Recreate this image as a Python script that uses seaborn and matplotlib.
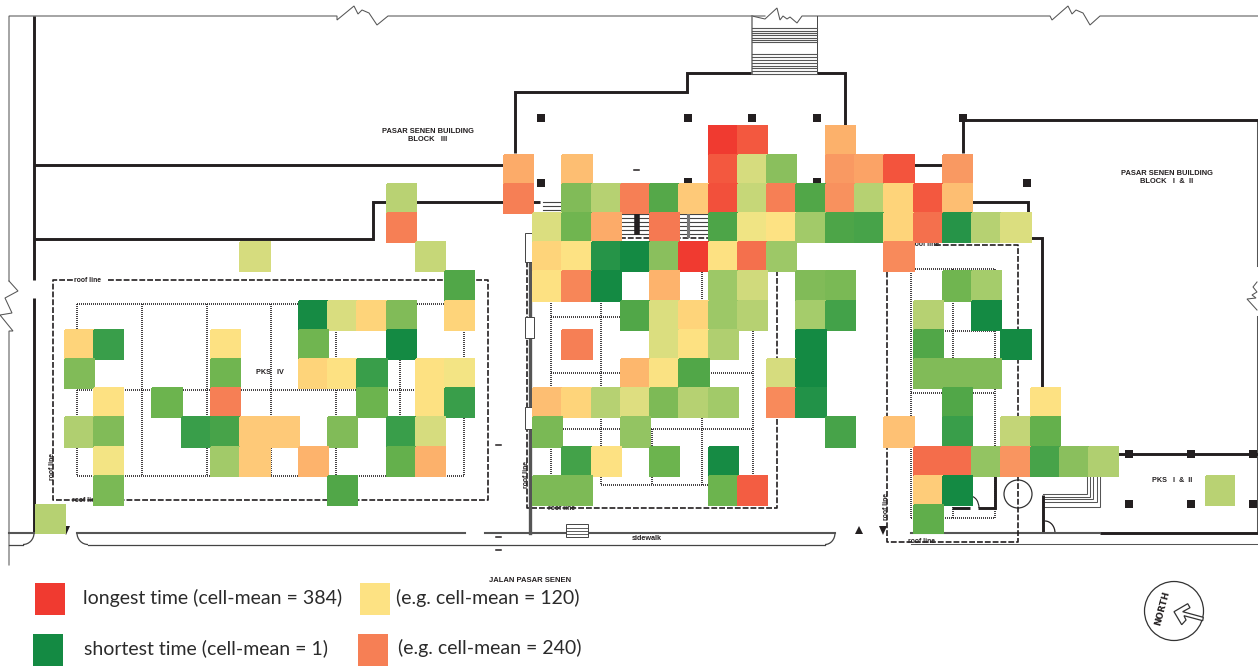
#!/usr/bin/env python3
"""Waiting time heat map over the Pasar Senen floor plan."""

import numpy as np
import pandas as pd
import matplotlib
matplotlib.use("Agg")
import matplotlib.pyplot as plt
import seaborn as sns
from matplotlib.colors import LinearSegmentedColormap, Normalize
from matplotlib.patches import Circle, Polygon, Rectangle, Arc

# ------------------------------------------------------------------
# DATA: (column, cell-mean) per row of the grid
# ------------------------------------------------------------------
row_00 = [(23, 384), (24, 310), (27, 175)]
row_01 = [(16, 185), (18, 160), (23, 310), (24, 85), (25, 52), (27, 205), (28, 195), (29, 320), (31, 205)]
row_02 = [(12, 72), (16, 240), (18, 50), (19, 70), (20, 240), (21, 32), (22, 148), (23, 330), (24, 78),
          (25, 240), (26, 30), (27, 215), (28, 70), (29, 135), (30, 310), (31, 160)]
row_03 = [(12, 240), (17, 88), (18, 42), (19, 185), (21, 250), (23, 28), (24, 100), (25, 120), (26, 60),
          (27, 28), (28, 25), (29, 135), (30, 265), (31, 12), (32, 70), (33, 88)]
row_04 = [(7, 85), (13, 78), (17, 135), (18, 120), (19, 12), (20, 2), (21, 52), (22, 384), (23, 122),
          (24, 265), (25, 58), (29, 225)]
row_05 = [(14, 30), (17, 122), (18, 230), (19, 2), (21, 172), (23, 58), (24, 82), (26, 50), (27, 47),
          (31, 42), (32, 62)]
row_06 = [(9, 3), (10, 87), (11, 135), (12, 50), (14, 135), (20, 30), (21, 88), (22, 135), (23, 58),
          (24, 70), (26, 62), (27, 24), (30, 70), (32, 2)]
row_07 = [(1, 135), (2, 20), (6, 122), (9, 42), (12, 2), (18, 240), (21, 88), (22, 122), (23, 68),
          (26, 2), (30, 30), (33, 2)]
row_08 = [(1, 50), (6, 42), (9, 135), (10, 122), (11, 20), (13, 122), (14, 105), (20, 168), (21, 115),
          (22, 30), (25, 85), (26, 2), (30, 50), (31, 50), (32, 50)]
row_09 = [(2, 122), (4, 40), (6, 240), (11, 41), (13, 122), (14, 20), (17, 160), (18, 135), (19, 70),
          (20, 90), (21, 48), (22, 70), (23, 60), (25, 225), (26, 11), (31, 30), (34, 122)]
row_10 = [(1, 68), (2, 50), (5, 20), (6, 26), (7, 148), (8, 148), (10, 50), (12, 20), (13, 85), (17, 47),
          (20, 56), (27, 25), (29, 158), (31, 20), (33, 76), (34, 37)]
row_11 = [(2, 105), (6, 60), (7, 148), (9, 172), (12, 38), (13, 175), (18, 24), (19, 122), (21, 40), (23, 3),
          (30, 270), (31, 270), (32, 56), (33, 210), (34, 26), (35, 52), (36, 68)]
row_12 = [(2, 47), (10, 30), (17, 48), (18, 48), (23, 40), (24, 300), (30, 145), (31, 2), (40, 72)]
row_13 = [(0, 70), (30, 36)]
grid_rows = [row_00, row_01, row_02, row_03, row_04, row_05, row_06,
             row_07, row_08, row_09, row_10, row_11, row_12, row_13]

# colour scale, cell-mean -> colour
scale_values = [1, 10, 20, 30, 40, 50, 60, 70, 85, 100, 120, 135, 150, 170, 190, 210, 240, 270, 310, 384]
scale_colors = ['#148a43', '#229248', '#3b9f4a', '#52a748', '#6cb44e', '#83bc59', '#a3cb6a', '#b6d172',
                '#d6dc7e', '#f0e484', '#fde283', '#fed47a', '#fec878', '#fdb56c', '#fba768', '#f99560',
                '#f67f55', '#f46d4b', '#f3583f', '#f03a30']

legend_values = [384, 120, 1, 240]
legend_labels = ['longest time (cell-mean = 384)', '(e.g. cell-mean = 120)',
                 'shortest time (cell-mean = 1)', '(e.g. cell-mean = 240)']

# ------------------------------------------------------------------
# FLOOR PLAN (pixel coordinates of the drawing)
# ------------------------------------------------------------------
INK = '#231f20'

thick_walls = [
    [(34, 16), (34, 280)], [(34, 298), (34, 533)],
    [(34, 165), (503, 165)],
    [(34, 239), (373, 239), (373, 202), (540, 202)],
    [(515, 153), (515, 92), (687, 92), (687, 73), (752, 73)],
    [(817, 73), (845, 73), (845, 125)],
    [(963, 153), (963, 120), (1258, 120)],
    [(913, 165), (942, 165)],
    [(972, 202), (1028, 202), (1028, 212)],
    [(1031, 238), (1042, 238), (1042, 388)],
    [(1118, 454), (1258, 454)],
    [(1043, 495), (1043, 533)],
    [(1100, 533), (1258, 533)],
    [(995, 476), (995, 508), (978, 508)], [(952, 508), (970, 508)],
]
thin_lines = [
    [(9, 281), (9, 16), (337, 16), (337, 20), (354, 6), (358, 14), (362, 10), (369, 13), (377, 25),
     (388, 16), (765, 16)],
    [(752, 16), (765, 19), (777, 8), (780, 20), (783, 16), (787, 19), (790, 17), (797, 23), (802, 16),
     (1050, 16), (1052, 20), (1068, 6), (1072, 14), (1076, 10), (1083, 13), (1090, 25), (1100, 16),
     (1258, 16)],
    [(9, 281), (18, 291), (5, 298), (12, 313), (0, 315), (13, 331), (9, 331), (9, 565)],
    [(1257, 120), (1257, 266)], [(1257, 282), (1253, 287), (1257, 292), (1252, 295), (1256, 298),
                                 (1247, 299), (1257, 310)],
    [(1257, 316), (1257, 533)],
    [(911, 544), (1258, 544)],
    [(1087, 476), (1087, 494), (1043, 494)], [(1090, 476), (1090, 497), (1043, 497)],
    [(1093, 476), (1093, 499), (1043, 499)], [(1097, 476), (1097, 502), (1043, 502)],
    [(1100, 476), (1100, 507), (1043, 507)],
]
kerb_lines = [[(9, 533), (34, 533)], [(77, 533), (465, 533)], [(485, 533), (835, 533)], [(911, 533), (1100, 533)]]
walk_lines = [[(88, 544.5), (825, 544.5)], [(9, 544.5), (23, 544.5)]]
roof_lines = [
    [(108, 280), (488, 280), (488, 500), (53, 500), (53, 280), (75, 280)],
    [(527, 238), (527, 508), (777, 508), (777, 270)],
    [(935, 245), (1018, 245), (1018, 542), (887, 542), (887, 270)],
    [(620, 238), (708, 238)],
]
dotted_v = [(x, 304, 476) for x in (77, 142, 207, 271, 336, 400, 464)] + \
           [(551, 301, 485), (601, 301, 485), (652, 429, 485), (702, 270, 485), (753, 331, 485)] + \
           [(911, 269, 518), (953, 269, 518), (995, 269, 518)]
dotted_h = [(y, 77, 464) for y in (304, 390, 476)] + \
           [(317, 551, 640), (373, 551, 753), (429, 561, 753), (485, 601, 753)] + \
           [(y, 911, 995) for y in (269, 331, 393, 518)]
column_marks = [(541, 118), (688, 118), (752, 118), (817, 118), (963, 118), (541, 183), (688, 182),
                (817, 182), (1027, 183), (1129, 454), (1191, 454), (1253, 454),
                (1129, 504), (1191, 504), (1253, 504)]
top_stair_y = [28, 31, 33, 35, 38, 40, 42, 54, 57, 60, 63, 66, 68, 71, 74]
mid_stair_y = [202, 206, 210, 214, 218, 222, 226, 230, 234]
arrow_pts = [(1174, 611.7), (1187.7, 603.7), (1190, 607.7), (1182.7, 611.7), (1203.3, 617.3),
             (1202.7, 620.7), (1184, 615.7), (1186, 620), (1181.7, 624.7)]

plan_labels = [
    (428, 135.5, 'PASAR SENEN BUILDING\nBLOCK   III', 0, 5.4),
    (1167, 177.5, 'PASAR SENEN BUILDING\nBLOCK   I  &  II', 0, 5.4),
    (270, 372, 'PKS   IV', 0, 5.2),
    (1172, 481, 'PKS   I  &  II', 0, 5.2),
    (88, 280.5, 'roof line', 0, 4.9), (85, 500, 'roof line', 0, 4.9),
    (53, 466, 'roof line', 90, 4.9),
    (561, 508.5, 'roof line', 0, 4.9), (526, 474, 'roof line', 90, 4.9),
    (925, 245, 'roof line', 0, 4.9), (921, 541.5, 'roof line', 0, 4.9), (886, 507, 'roof line', 90, 4.9),
    (647, 538.5, 'sidewalk', 0, 5.2),
    (530, 580, 'JALAN PASAR SENEN', 0, 5.5),
]

# ------------------------------------------------------------------
# PLOTTING
# ------------------------------------------------------------------
def polyline(ax, pts, **kw):
    xs, ys = zip(*pts)
    ax.plot(xs, ys, **kw)


def draw_plan(ax):
    for pts in thin_lines:
        polyline(ax, pts, color='#555555', lw=0.75, solid_joinstyle='miter')
    for pts in thick_walls:
        polyline(ax, pts, color=INK, lw=2.1, solid_joinstyle='miter', solid_capstyle='butt')
    for pts in kerb_lines:
        polyline(ax, pts, color='#555555', lw=1.5)
    for pts in walk_lines:
        polyline(ax, pts, color='#444444', lw=0.9)
    ax.add_patch(Arc((88, 533), 22, 23, theta1=90, theta2=180, color='#444444', lw=0.9))
    ax.add_patch(Arc((825, 533), 20, 23, theta1=0, theta2=90, color='#444444', lw=0.9))
    ax.add_patch(Arc((23, 533), 22, 23, theta1=0, theta2=90, color='#444444', lw=0.9))
    for pts in roof_lines:
        polyline(ax, pts, color=INK, lw=1.2, ls=(0, (3.5, 1.2)))
    for x, y0, y1 in dotted_v:
        ax.plot([x, x], [y0, y1], color=INK, lw=1.2, ls=(0, (0.6, 0.6)))
    for y, x0, x1 in dotted_h:
        ax.plot([x0, x1], [y, y], color=INK, lw=1.2, ls=(0, (0.6, 0.6)))
    for x, y in column_marks:
        ax.add_patch(Rectangle((x - 4, y - 4), 8, 8, color=INK, lw=0))

    # stairs
    ax.plot([752, 752], [16, 74], color='#777777', lw=1.1)
    ax.plot([817, 817], [16, 74], color='#444444', lw=0.7)
    for y in top_stair_y:
        ax.plot([752, 817], [y, y], color='#555555', lw=0.8)
    for y in mid_stair_y:
        ax.plot([543, 708], [y, y], color='#444444', lw=0.8)
    ax.plot([637, 637], [214, 232], color=INK, lw=4)
    ax.plot([688, 688], [212, 236], color='#777777', lw=2.2)
    ax.add_patch(Rectangle((566, 524), 22, 13, fc='white', ec='#444444', lw=0.7, zorder=3))
    for y in (528, 531, 534):
        ax.plot([566, 588], [y, y], color='#444444', lw=0.6, zorder=3)

    # colonnade down the middle block
    ax.plot([530, 530], [238, 533], color='#555555', lw=2.4)
    for y0, y1 in ((233, 262), (317, 338), (407, 429)):
        ax.add_patch(Rectangle((525, y0), 9, y1 - y0, fc='white', ec='#444444', lw=0.7, zorder=3))

    # small symbols
    for tri in ([(855, 534), (863, 534), (859, 526)],
                [(879, 526), (887, 526), (883, 535)],
                [(62, 526), (70, 526), (66, 535)]):
        ax.add_patch(Polygon(tri, color=INK, lw=0))
    for x, y in ((498, 445), (498, 537), (498, 550), (636, 170)):
        ax.plot([x - 2.5, x + 2.5], [y, y], color=INK, lw=1.1)
    ax.add_patch(Circle((1018, 494), 14, fill=False, ec='#333333', lw=0.9))
    ax.add_patch(Arc((970, 508), 18, 24, theta1=270, theta2=360, color=INK, lw=0.8))
    ax.add_patch(Arc((1045, 533), 20, 24, theta1=270, theta2=360, color=INK, lw=0.9))

    for x, y, txt, rot, size in plan_labels:
        ax.text(x, y, txt, ha='center', va='center', rotation=rot, fontsize=size, fontweight='bold',
                family='Liberation Sans', color=INK, linespacing=1.15, zorder=4)

    # north arrow
    ax.add_patch(Circle((1174, 611), 29.5, fill=False, ec='#333333', lw=0.9))
    ax.add_patch(Polygon(arrow_pts, closed=True, fc='white', ec='#333333', lw=0.9))
    ax.text(1162, 608, 'NORTH', rotation=75, ha='center', va='center', fontsize=6.4, fontweight='bold',
            family='DejaVu Sans', color=INK)


def draw_legend(ax, cmap, norm):
    squares = [(35, 583), (360, 583), (33, 634), (358, 634)]
    text_pos = [(83, 598), (396, 598), (84, 648), (398, 648)]
    for (sx, sy), (tx, ty), val, lab in zip(squares, text_pos, legend_values, legend_labels):
        ax.add_patch(Rectangle((sx, sy), 30, 32, color=cmap(norm(val)), lw=0))
        ax.text(tx, ty, lab, ha='left', va='center', fontsize=14, family='Lato', color='#2b2b2b')


def main():
    fig = plt.figure(figsize=(12.58, 6.68), dpi=100)
    W, H = 1258.0, 668.0

    plan_ax = fig.add_axes([0, 0, 1, 1])
    plan_ax.set_xlim(0, W)
    plan_ax.set_ylim(H, 0)
    plan_ax.axis('off')

    cmap = LinearSegmentedColormap.from_list(
        'wait', [((v - 1) / 383, c) for v, c in zip(scale_values, scale_colors)])
    norm = Normalize(1, 384)

    draw_plan(plan_ax)
    draw_legend(plan_ax, cmap, norm)

    # long table -> 14 x 41 grid, empty cells stay blank
    records = [(r, c, v) for r, row in enumerate(grid_rows) for c, v in row]
    df = pd.DataFrame(records, columns=['row', 'col', 'mean'])
    grid = df.pivot(index='row', columns='col', values='mean').reindex(index=range(14), columns=range(41))

    x0, y0, cw, ch = 35.4, 125.5, 29.27, 29.2
    heat_ax = fig.add_axes([x0 / W, 1 - (y0 + 14 * ch) / H, 41 * cw / W, 14 * ch / H])
    sns.heatmap(grid, ax=heat_ax, cmap=cmap, vmin=1, vmax=384, cbar=False, square=False,
                linewidths=1.1, linecolor='face', xticklabels=False, yticklabels=False)
    heat_ax.axis('off')

    fig.savefig('out.png', dpi=100, facecolor='white')


if __name__ == '__main__':
    main()
